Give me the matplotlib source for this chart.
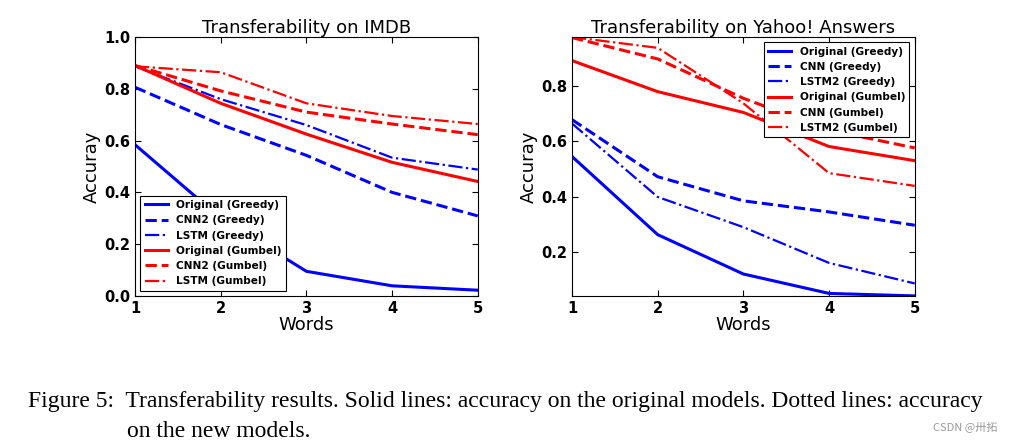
import matplotlib.pyplot as plt
import numpy as np

words = [1, 2, 3, 4, 5]

# IMDB panel
imdb_labels = ["Original (Greedy)", "CNN2 (Greedy)", "LSTM (Greedy)",
               "Original (Gumbel)", "CNN2 (Gumbel)", "LSTM (Gumbel)"]
imdb_orig_greedy = [0.584, 0.30, 0.095, 0.039, 0.022]
imdb_cnn2_greedy = [0.806, 0.662, 0.543, 0.400, 0.309]
imdb_lstm_greedy = [0.887, 0.760, 0.660, 0.534, 0.488]
imdb_orig_gumbel = [0.890, 0.744, 0.625, 0.516, 0.442]
imdb_cnn2_gumbel = [0.890, 0.792, 0.710, 0.664, 0.623]
imdb_lstm_gumbel = [0.887, 0.864, 0.744, 0.695, 0.664]

# Yahoo! Answers panel
yahoo_labels = ["Original (Greedy)", "CNN (Greedy)", "LSTM2 (Greedy)",
                "Original (Gumbel)", "CNN (Gumbel)", "LSTM2 (Gumbel)"]
yahoo_orig_greedy = [0.545, 0.263, 0.121, 0.051, 0.042]
yahoo_cnn_greedy = [0.678, 0.472, 0.385, 0.345, 0.297]
yahoo_lstm2_greedy = [0.664, 0.399, 0.290, 0.161, 0.087]
yahoo_orig_gumbel = [0.891, 0.779, 0.704, 0.581, 0.530]
yahoo_cnn_gumbel = [0.974, 0.897, 0.755, 0.640, 0.576]
yahoo_lstm2_gumbel = [0.976, 0.937, 0.737, 0.485, 0.439]

caption_1 = "Figure 5:  Transferability results. Solid lines: accuracy on the original models. Dotted lines: accuracy"
caption_2 = "on the new models."

plt.rcParams["xtick.direction"] = "in"
plt.rcParams["ytick.direction"] = "in"
plt.rcParams["xtick.top"] = True
plt.rcParams["ytick.right"] = True
plt.rcParams["xtick.major.size"] = 4
plt.rcParams["ytick.major.size"] = 4
plt.rcParams["axes.xmargin"] = 0
plt.rcParams["axes.ymargin"] = 0

styles = [("b", "-", 2.2), ("b", "--", 2.2), ("b", "-.", 1.6),
          ("r", "-", 2.2), ("r", "--", 2.2), ("r", "-.", 1.6)]

fig = plt.figure(figsize=(10.2, 4.41), dpi=100)
ax1 = fig.add_axes([0.1324, 0.329, 0.336, 0.587])
ax2 = fig.add_axes([0.5608, 0.329, 0.336, 0.587])


def style_ticks(ax):
    for t in ax.get_xticklabels() + ax.get_yticklabels():
        t.set_fontweight("bold")
        t.set_fontsize(10.5)


def draw(ax, series, labels, title, loc):
    for ys, lab, (c, ls, lw) in zip(series, labels, styles):
        ax.plot(words, ys, color=c, linestyle=ls, linewidth=lw, label=lab)
    ax.set_title(title, fontsize=13, pad=3)
    ax.set_xlabel("Words", fontsize=13, labelpad=0)
    ax.set_ylabel("Accuray", fontsize=13, labelpad=2)
    ax.set_xticks(words)
    leg = ax.legend(loc=loc, prop={"weight": "bold", "size": 7.6},
                    fancybox=False, framealpha=1, edgecolor="black",
                    borderaxespad=0.5, handlelength=2.2, labelspacing=0.5)
    leg.get_frame().set_linewidth(0.8)


draw(ax1, [imdb_orig_greedy, imdb_cnn2_greedy, imdb_lstm_greedy,
           imdb_orig_gumbel, imdb_cnn2_gumbel, imdb_lstm_gumbel],
     imdb_labels, "Transferability on IMDB", "lower left")
ax1.set_ylim(0, 1.0)
ax1.set_yticks([0.0, 0.2, 0.4, 0.6, 0.8, 1.0])
style_ticks(ax1)

draw(ax2, [yahoo_orig_greedy, yahoo_cnn_greedy, yahoo_lstm2_greedy,
           yahoo_orig_gumbel, yahoo_cnn_gumbel, yahoo_lstm2_gumbel],
     yahoo_labels, "Transferability on Yahoo! Answers", "upper right")
ax2.set_yticks([0.2, 0.4, 0.6, 0.8])
style_ticks(ax2)

fig.text(0.027, 0.077, caption_1, family="Liberation Serif", fontsize=17)
fig.text(0.125, 0.008, caption_2, family="Liberation Serif", fontsize=17)
fig.text(0.915, 0.025, "CSDN @卅拓", family=["Noto Sans CJK SC", "DejaVu Sans"],
         fontsize=8, color="#999999")

fig.savefig("out.png", dpi=100)
